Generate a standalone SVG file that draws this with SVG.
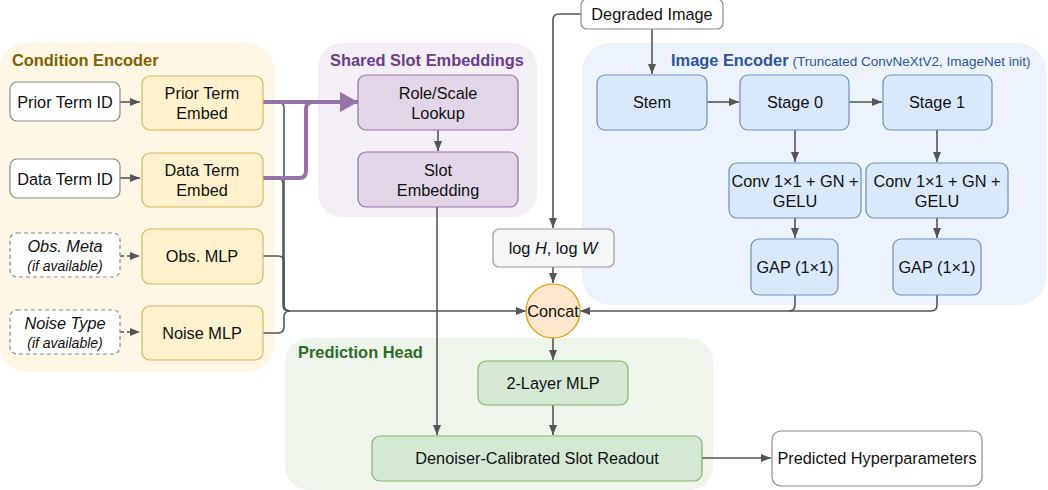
<svg xmlns="http://www.w3.org/2000/svg" width="1048" height="490" viewBox="0 0 1048 490">
  <style>
    text { font-family: "Liberation Sans", Arial, sans-serif; fill: #111; }
    .lbl { font-size: 16.3px; text-anchor: middle; }
    .sm { font-size: 14px; text-anchor: middle; font-style: italic; }
    .it { font-style: italic; }
    .title { font-size: 16.4px; font-weight: bold; }
    .plain { fill: #fff; stroke: #8a8a8a; stroke-width: 1.2; }
    .opt { fill: #fff; stroke: #8a8a8a; stroke-width: 1.2; stroke-dasharray: 4 3; }
    .yel { fill: #fff2cc; stroke: #d6b656; stroke-width: 1.2; }
    .pur { fill: #e1d5e7; stroke: #9673a6; stroke-width: 1.2; }
    .blu { fill: #dae8fc; stroke: #6c8ebf; stroke-width: 1.2; }
    .grn { fill: #d5e8d4; stroke: #82b366; stroke-width: 1.2; }
    .gry { fill: #f5f6f8; stroke: #9a9a9a; stroke-width: 1.2; }
    .edge { fill: none; stroke: #555; stroke-width: 1.6; }
    .edge-dash { fill: none; stroke: #555; stroke-width: 1.6; stroke-dasharray: 4 3; }
    .slot { fill: none; stroke: #9673a6; stroke-width: 4; }
  </style>
  <defs>
    <marker id="arr" markerUnits="userSpaceOnUse" markerWidth="10" markerHeight="10" refX="10" refY="5" orient="auto">
      <path d="M0,1 L10,5 L0,9 Z" fill="#555"/>
    </marker>
    <marker id="arrBig" markerUnits="userSpaceOnUse" markerWidth="20" markerHeight="22" refX="18" refY="11" orient="auto">
      <path d="M0,1 L18,11 L0,21 Z" fill="#9673a6"/>
    </marker>
  </defs>

  <!-- group backgrounds -->
  <g id="groups">
    <rect x="0" y="43" width="274" height="329" rx="26" fill="#fef7e6"/>
    <text class="title" x="12" y="66" style="fill:#7f6000">Condition Encoder</text>
    <rect x="318" y="43" width="219" height="174" rx="24" fill="#f4eef7"/>
    <text class="title" x="330" y="66" style="fill:#6b3d8c">Shared Slot Embeddings</text>
    <rect x="582" y="43" width="464" height="262" rx="28" fill="#edf3fc"/>
    <text x="671" y="66"><tspan class="title" style="fill:#2f5597">Image Encoder</tspan><tspan font-size="13.5" dx="4" style="fill:#2f5597">(Truncated ConvNeXtV2, ImageNet init)</tspan></text>
    <rect x="285" y="338" width="428" height="152" rx="24" fill="#eef6ec"/>
    <text class="title" x="298" y="358" style="fill:#2e6b2a">Prediction Head</text>
  </g>

  <!-- connectors -->
  <g id="connectors">
    <path class="edge" d="M120,102 H140" marker-end="url(#arr)"/>
    <path class="edge" d="M120,178 H140" marker-end="url(#arr)"/>
    <path class="edge-dash" d="M120,256 H140" marker-end="url(#arr)"/>
    <path class="edge-dash" d="M120,332 H140" marker-end="url(#arr)"/>

    <path class="edge" d="M263,102 H278 Q284,102 284,108 V305 Q284,311 290,311 H526" marker-end="url(#arr)"/>
    <path class="edge" d="M263,178 H277 Q283,178 283,184 V305 Q283,311 289,311"/>
    <path class="edge" d="M263,256 H278 Q284,256 284,262 V305 Q284,311 290,311"/>
    <path class="edge" d="M263,333 H278 Q284,333 284,327 V317 Q284,311 290,311"/>

    <path class="slot" d="M263,102 H358" marker-end="url(#arrBig)"/>
    <path class="slot" d="M263,178 H299 Q306,178 306,171 V109 Q306,102 313,102 H330"/>

    <path class="edge" d="M438,130 V151" marker-end="url(#arr)"/>
    <path class="edge" d="M437,207 V435" marker-end="url(#arr)"/>

    <path class="edge" d="M581,14 H559 Q553,14 553,20 V228" marker-end="url(#arr)"/>
    <path class="edge" d="M652,29 V74" marker-end="url(#arr)"/>
    <path class="edge" d="M707,102 H739" marker-end="url(#arr)"/>
    <path class="edge" d="M849,102 H882" marker-end="url(#arr)"/>
    <path class="edge" d="M795,130 V162" marker-end="url(#arr)"/>
    <path class="edge" d="M937,130 V162" marker-end="url(#arr)"/>
    <path class="edge" d="M795,218 V238" marker-end="url(#arr)"/>
    <path class="edge" d="M937,218 V238" marker-end="url(#arr)"/>
    <path class="edge" d="M795,295 V305 Q795,311 789,311 H580" marker-end="url(#arr)"/>
    <path class="edge" d="M937,295 V305 Q937,311 931,311 H789"/>

    <path class="edge" d="M553,267 V283" marker-end="url(#arr)"/>
    <path class="edge" d="M553,338 V360" marker-end="url(#arr)"/>
    <path class="edge" d="M553,405 V435" marker-end="url(#arr)"/>
    <path class="edge" d="M702,458 H771" marker-end="url(#arr)"/>
  </g>

  <!-- condition encoder nodes -->
  <g id="prior-term-id">
    <rect class="plain" x="10" y="82" width="110" height="39" rx="7"/>
    <text class="lbl" x="65" y="108">Prior Term ID</text>
  </g>
  <g id="prior-term-embed">
    <rect class="yel" x="142" y="76" width="121" height="54" rx="8"/>
    <text class="lbl" x="202" y="99">Prior Term</text>
    <text class="lbl" x="202" y="119">Embed</text>
  </g>
  <g id="data-term-id">
    <rect class="plain" x="10" y="159" width="110" height="39" rx="7"/>
    <text class="lbl" x="65" y="185">Data Term ID</text>
  </g>
  <g id="data-term-embed">
    <rect class="yel" x="142" y="153" width="121" height="54" rx="8"/>
    <text class="lbl" x="202" y="176">Data Term</text>
    <text class="lbl" x="202" y="196">Embed</text>
  </g>
  <g id="obs-meta">
    <rect class="opt" x="10" y="233" width="110" height="44" rx="7"/>
    <text class="lbl it" x="65" y="252">Obs. Meta</text>
    <text class="sm" x="65" y="271">(if available)</text>
  </g>
  <g id="obs-mlp">
    <rect class="yel" x="142" y="229" width="121" height="55" rx="8"/>
    <text class="lbl" x="202" y="262">Obs. MLP</text>
  </g>
  <g id="noise-type">
    <rect class="opt" x="10" y="310" width="110" height="44" rx="7"/>
    <text class="lbl it" x="65" y="329">Noise Type</text>
    <text class="sm" x="65" y="348">(if available)</text>
  </g>
  <g id="noise-mlp">
    <rect class="yel" x="142" y="306" width="121" height="54" rx="8"/>
    <text class="lbl" x="202" y="339">Noise MLP</text>
  </g>

  <!-- shared slot embeddings -->
  <g id="role-scale-lookup">
    <rect class="pur" x="358" y="75" width="160" height="55" rx="8"/>
    <text class="lbl" x="438" y="99">Role/Scale</text>
    <text class="lbl" x="438" y="119">Lookup</text>
  </g>
  <g id="slot-embedding">
    <rect class="pur" x="358" y="152" width="160" height="55" rx="8"/>
    <text class="lbl" x="438" y="176">Slot</text>
    <text class="lbl" x="438" y="196">Embedding</text>
  </g>

  <!-- image branch -->
  <g id="degraded-image">
    <rect class="plain" x="581" y="-1" width="142" height="30" rx="6"/>
    <text class="lbl" x="652" y="20">Degraded Image</text>
  </g>
  <g id="stem">
    <rect class="blu" x="597" y="75" width="110" height="55" rx="8"/>
    <text class="lbl" x="652" y="108">Stem</text>
  </g>
  <g id="stage-0">
    <rect class="blu" x="740" y="75" width="109" height="55" rx="8"/>
    <text class="lbl" x="795" y="108">Stage 0</text>
  </g>
  <g id="stage-1">
    <rect class="blu" x="883" y="75" width="109" height="55" rx="8"/>
    <text class="lbl" x="937" y="108">Stage 1</text>
  </g>
  <g id="proj-0">
    <rect class="blu" x="729" y="163" width="132" height="55" rx="8"/>
    <text class="lbl" x="795" y="187">Conv 1×1 + GN +</text>
    <text class="lbl" x="795" y="207">GELU</text>
  </g>
  <g id="proj-1">
    <rect class="blu" x="866" y="163" width="142" height="55" rx="8"/>
    <text class="lbl" x="937" y="187">Conv 1×1 + GN +</text>
    <text class="lbl" x="937" y="207">GELU</text>
  </g>
  <g id="gap-0">
    <rect class="blu" x="751" y="239" width="87" height="56" rx="8"/>
    <text class="lbl" x="795" y="273">GAP (1×1)</text>
  </g>
  <g id="gap-1">
    <rect class="blu" x="893" y="239" width="88" height="56" rx="8"/>
    <text class="lbl" x="937" y="273">GAP (1×1)</text>
  </g>
  <g id="log-hw">
    <rect class="gry" x="493" y="229" width="121" height="38" rx="6"/>
    <text class="lbl" x="553" y="254">log <tspan class="it">H</tspan>, log <tspan class="it">W</tspan></text>
  </g>

  <!-- fusion and head -->
  <g id="concat">
    <circle cx="553" cy="311" r="27" fill="#ffe6cc" stroke="#d79b00" stroke-width="1.2"/>
    <text class="lbl" x="553" y="317">Concat</text>
  </g>
  <g id="two-layer-mlp">
    <rect class="grn" x="478" y="361" width="150" height="44" rx="8"/>
    <text class="lbl" x="553" y="389">2-Layer MLP</text>
  </g>
  <g id="slot-readout">
    <rect class="grn" x="372" y="436" width="330" height="45" rx="8"/>
    <text class="lbl" x="537" y="464">Denoiser-Calibrated Slot Readout</text>
  </g>
  <g id="predicted-hyperparameters">
    <rect class="plain" x="772" y="431" width="210" height="55" rx="9"/>
    <text class="lbl" x="877" y="464">Predicted Hyperparameters</text>
  </g>
</svg>
